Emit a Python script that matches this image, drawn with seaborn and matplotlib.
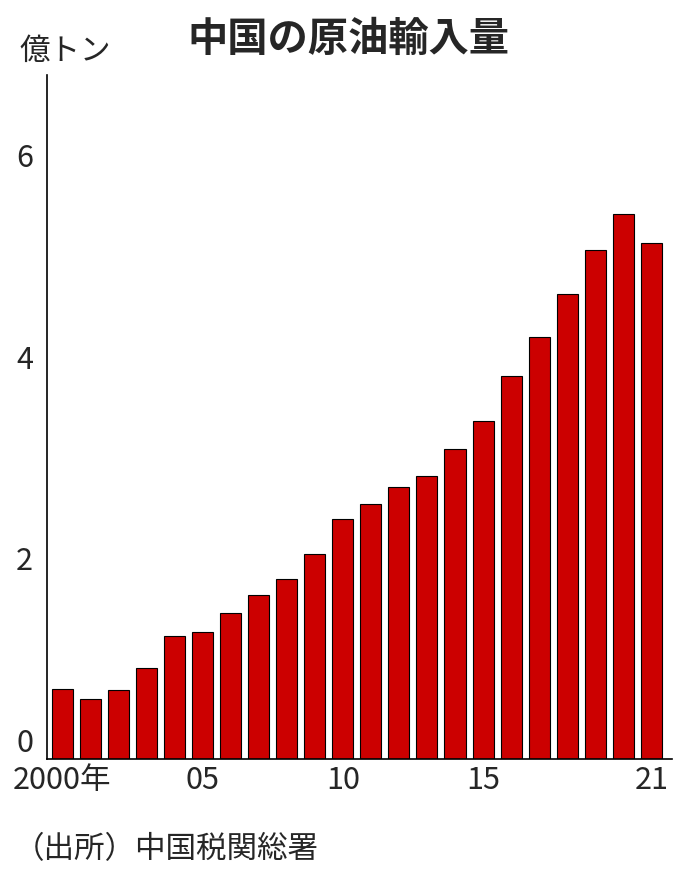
import seaborn as sns
import matplotlib.pyplot as plt
import pandas as pd

years = list(range(2000, 2022))
imports = [0.70, 0.60, 0.69, 0.91, 1.23, 1.27, 1.45, 1.63, 1.79, 2.04, 2.39,
           2.54, 2.71, 2.82, 3.08, 3.36, 3.81, 4.20, 4.62, 5.06, 5.42, 5.13]
tick_pos = [0, 5, 10, 15, 21]
tick_labels = ["2000年", "05", "10", "15", "21"]
y_ticks = [0, 2, 4, 6]

sns.set_style("white")
plt.rcParams['font.family'] = ['Noto Sans CJK JP', 'DejaVu Sans']

df = pd.DataFrame({"year": [str(y) for y in years], "value": imports})

fig = plt.figure(figsize=(6.96, 8.82), dpi=100)
ax = fig.add_axes([0.0675, 0.139, 0.8985, 0.776])
sns.barplot(x="year", y="value", data=df, color="#cc0000", saturation=1,
            edgecolor="black", linewidth=0.8, width=0.75, ax=ax)

ax.set_xlim(-0.55, 21.75)
ax.set_ylim(0, 6.8)
ax.set_yticks(y_ticks)
ax.set_yticklabels([str(t) for t in y_ticks], fontsize=22)
ax.set_xticks(tick_pos)
ax.set_xticklabels(tick_labels, fontsize=22)
ax.get_yticklabels()[0].set_va("bottom")
ax.tick_params(axis="y", length=6, width=1, color="black", pad=4)
ax.tick_params(axis="x", length=0, pad=4)
ax.set_xlabel("")
ax.set_ylabel("")
for s in ["top", "right"]:
    ax.spines[s].set_visible(False)
for s in ["left", "bottom"]:
    ax.spines[s].set_color("black")
    ax.spines[s].set_linewidth(1.2)

fig.text(0.5, 0.955, "中国の原油輸入量", ha="center", va="center",
         fontsize=29, fontweight="bold")
fig.text(0.028, 0.942, "億トン", ha="left", va="center", fontsize=22)
fig.text(0.02, 0.037, "（出所）中国税関総署", ha="left", va="center", fontsize=22)

fig.savefig("out.png", dpi=100)
